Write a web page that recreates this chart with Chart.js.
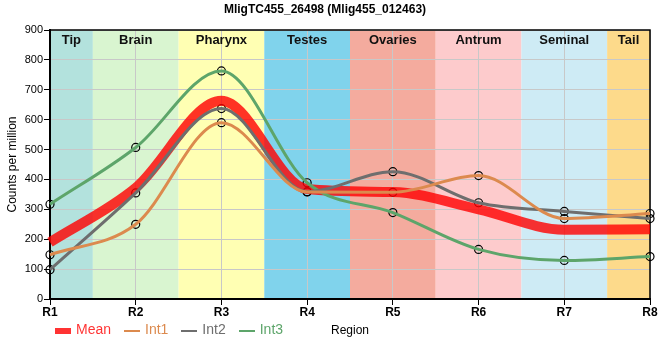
<!DOCTYPE html>
<html>
<head>
<meta charset="utf-8">
<script src="https://cdn.jsdelivr.net/npm/chart.js@4/dist/chart.umd.min.js"></script>
<style>
  html, body { margin: 0; padding: 0; background: #fff; }
  #wrap { width: 660px; height: 360px; }
</style>
</head>
<body>
<div id="wrap"><canvas id="chart" width="660" height="360"></canvas></div>
<script>
// data
const regions = ['R1', 'R2', 'R3', 'R4', 'R5', 'R6', 'R7', 'R8'];
const regionNames = ['Tip', 'Brain', 'Pharynx', 'Testes', 'Ovaries', 'Antrum', 'Seminal', 'Tail'];
const regionColors = ['#b3e2dd', '#d9f5d0', '#ffffb3', '#80d3ec', '#f4ab9e', '#fdcbcc', '#ceebf5', '#fdda8b'];

const mean = [190, 372, 663, 368, 358, 300, 232, 233];
const int1 = [148, 250, 590, 358, 357, 413, 269, 286];
const int2 = [98, 355, 637, 359, 426, 322, 293, 269];
const int3 = [317, 507, 763, 389, 289, 166, 129, 142];

const yTicks = [0, 100, 200, 300, 400, 500, 600, 700, 800, 900];

const colMean = 'rgba(255,0,0,0.8)';
const colInt1 = '#dc8a4e';
const colInt2 = '#6e6e6e';
const colInt3 = '#5da56a';

const font = "'Liberation Sans', Arial, sans-serif";

// little legend swatches: thick bar for the mean, thin line for the replicates
function swatch(color, h) {
  const c = document.createElement('canvas');
  c.width = 16; c.height = h;
  const g = c.getContext('2d');
  g.fillStyle = color;
  g.fillRect(0, 0, 16, h);
  return c;
}

// coloured body-region bands behind the grid, names on top
const bands = {
  id: 'bands',
  afterLayout(chart) {
    // legend sits on the same row as the x axis title, just under the tick labels
    const lg = chart.legend, a = chart.chartArea;
    const h = lg.bottom - lg.top, w = lg.right - lg.left;
    lg.top = a.bottom + 9.5; lg.bottom = lg.top + h;
    lg.left = a.left - 8; lg.right = lg.left + w;
  },
  beforeDraw(chart) {
    const { ctx, chartArea: a, scales: { x } } = chart;
    ctx.save();
    regionNames.forEach((n, i) => {
      const l = Math.max(a.left, x.getPixelForValue(i - 0.5));
      const r = Math.min(a.right, x.getPixelForValue(i + 0.5));
      ctx.fillStyle = regionColors[i];
      ctx.fillRect(l, a.top, r - l, a.bottom - a.top);
    });
    ctx.restore();
  },
  beforeDatasetsDraw(chart) {
    const { ctx, chartArea: a, scales: { x } } = chart;
    ctx.save();
    ctx.font = 'bold 13px ' + font;
    ctx.fillStyle = '#111';
    ctx.textAlign = 'center';
    ctx.textBaseline = 'middle';
    regionNames.forEach((n, i) => {
      const l = Math.max(a.left, x.getPixelForValue(i - 0.5));
      const r = Math.min(a.right, x.getPixelForValue(i + 0.5));
      ctx.fillText(n, (l + r) / 2, a.top + 10.5);
    });
    ctx.strokeStyle = '#000';
    ctx.lineWidth = 1.5;
    ctx.beginPath();
    ctx.moveTo(a.left, a.top);
    ctx.lineTo(a.right, a.top);
    ctx.lineTo(a.right, a.bottom);
    ctx.stroke();
    ctx.restore();
  },
  afterDraw(chart) {
    const { ctx, chartArea: a, legend } = chart;
    const hb = legend.legendHitBoxes[0];
    ctx.save();
    ctx.font = '12px ' + font;
    ctx.fillStyle = '#000';
    ctx.textAlign = 'center';
    ctx.textBaseline = 'middle';
    ctx.fillText('Region', (a.left + a.right) / 2, hb.top + hb.height / 2);
    ctx.restore();
  }
};

const lineDs = (label, data, color, width) => ({
  label, data,
  borderColor: color,
  backgroundColor: color,
  borderWidth: width,
  pointRadius: 0,
  cubicInterpolationMode: 'monotone',
  fill: false
});
const pointDs = (data) => ({
  label: '', data,
  showLine: false,
  pointRadius: 4,
  pointBorderColor: '#000',
  pointBorderWidth: 1.2,
  pointBackgroundColor: 'rgba(0,0,0,0)',
  clip: false
});

new Chart(document.getElementById('chart'), {
  type: 'line',
  data: {
    labels: regions,
    datasets: [
      lineDs('Int1', int1, colInt1, 3),
      lineDs('Int2', int2, colInt2, 3),
      lineDs('Int3', int3, colInt3, 3),
      lineDs('Mean', mean, colMean, 10),
      pointDs(int1), pointDs(int2), pointDs(int3)
    ]
  },
  options: {
    responsive: false,
    animation: false,
    layout: { padding: { left: 0, right: 10, top: 0, bottom: 0 } },
    scales: {
      x: {
        offset: false,
        grid: { color: '#c8c8c8', tickColor: '#000', tickLength: 6, offset: false },
        border: { color: '#000', width: 2 },
        ticks: { color: '#000', font: { family: font, size: 12, weight: 'bold' }, padding: 0, maxRotation: 0 },
        afterFit(s) { s.height = 22; }
      },
      y: {
        min: 0, max: 900,
        afterBuildTicks(s) { s.ticks = yTicks.map(v => ({ value: v })); },
        grid: { color: '#c8c8c8', tickColor: '#000', tickLength: 6 },
        border: { color: '#000', width: 2 },
        ticks: { color: '#000', font: { family: font, size: 11 }, padding: 1 },
        title: { display: true, text: 'Counts per million', color: '#000', font: { family: font, size: 12 }, padding: { top: 5, bottom: 0 } },
        afterFit(s) { s.width = 50; }
      }
    },
    plugins: {
      title: {
        display: true,
        text: 'MligTC455_26498 (Mlig455_012463)',
        color: '#000',
        font: { family: font, size: 12, weight: 'bold' },
        padding: { top: 2, bottom: 13.6 }
      },
      legend: {
        position: 'bottom',
        align: 'start',
        fullSize: false,
        labels: {
          usePointStyle: true,
          pointStyleWidth: 12,
          boxHeight: 8,
          padding: 15,
          font: { family: font, size: 14 },
          generateLabels(chart) {
            const ds = chart.data.datasets;
            return [3, 0, 1, 2].map(i => ({
              text: ds[i].label,
              fillStyle: ds[i].borderColor,
              strokeStyle: ds[i].borderColor,
              fontColor: ds[i].borderColor,
              lineWidth: 0,
              pointStyle: swatch(ds[i].borderColor, i === 3 ? 6 : 2),
              datasetIndex: i
            }));
          }
        }
      },
      tooltip: { enabled: false }
    }
  },
  plugins: [bands]
});
</script>
</body>
</html>
